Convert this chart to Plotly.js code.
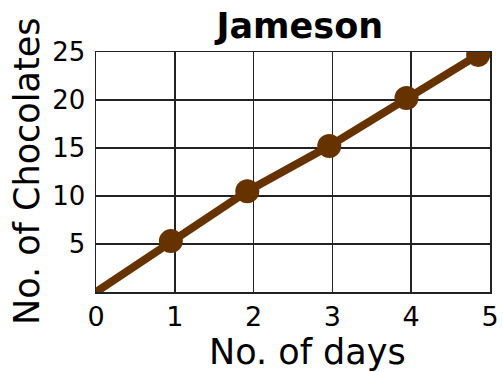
<!DOCTYPE html>
<html>
<head>
<meta charset="utf-8">
<script src="https://cdn.plot.ly/plotly-3.0.1.min.js"></script>
<style>html,body{margin:0;padding:0;background:#fff;}#chart{width:503px;height:372px;}</style>
</head>
<body>
<div id="chart"></div>
<script>
// Data
const days = [0, 0.95, 1.92, 2.96, 3.94, 4.85];
const chocolates = [0, 5.3, 10.5, 15.2, 20.2, 24.7];
const xTickVals = [0, 1, 2, 3, 4, 5];
const yTickVals = [5, 10, 15, 20, 25];
const titleText = "Jameson";
const xTitle = "No. of days";
const yTitle = "No. of Chocolates";

const brown = "#663300";
const font = "DejaVu Sans, Verdana, sans-serif";

const traces = [
  {x: days, y: chocolates, mode: "lines", line: {color: brown, width: 8}, hoverinfo: "skip"},
  {x: days.slice(1), y: chocolates.slice(1), mode: "markers", marker: {color: brown, size: 24}, hoverinfo: "skip"}
];

const layout = {
  width: 503, height: 372,
  margin: {l: 96, r: 13, t: 52, b: 80},
  paper_bgcolor: "#fff", plot_bgcolor: "#fff",
  showlegend: false,
  font: {family: font, color: "#000"},
  title: {text: "<b>" + titleText + "</b>", font: {size: 35, family: font, color: "#000"}, x: 0.596, xanchor: "center", y: 0.93, yanchor: "middle"},
  xaxis: {
    range: [0, 5], tickvals: xTickVals, ticktext: xTickVals.map(String),
    showgrid: true, gridcolor: "#222", gridwidth: 1.5,
    showline: true, linecolor: "#222", linewidth: 1.5, mirror: true,
    zeroline: false, ticks: "", tickfont: {size: 27}, ticklabelstandoff: 0
  },
  yaxis: {
    range: [0, 25], tickvals: yTickVals, ticktext: yTickVals.map(String),
    showgrid: true, gridcolor: "#222", gridwidth: 1.5,
    showline: true, linecolor: "#222", linewidth: 1.5, mirror: true,
    zeroline: false, ticks: "", tickfont: {size: 26}, ticklabelstandoff: 4
  },
  annotations: [
    {text: xTitle, xref: "paper", yref: "paper", x: 0.537, y: -0.25, xanchor: "center", yanchor: "middle",
     showarrow: false, font: {size: 35, family: font, color: "#000"}},
    {text: yTitle, xref: "paper", yref: "paper", x: -0.175, y: 0.5, xanchor: "center", yanchor: "middle",
     textangle: -90, showarrow: false, font: {size: 35, family: font, color: "#000"}}
  ]
};

Plotly.newPlot("chart", traces, layout, {displayModeBar: false, staticPlot: true});
</script>
</body>
</html>
